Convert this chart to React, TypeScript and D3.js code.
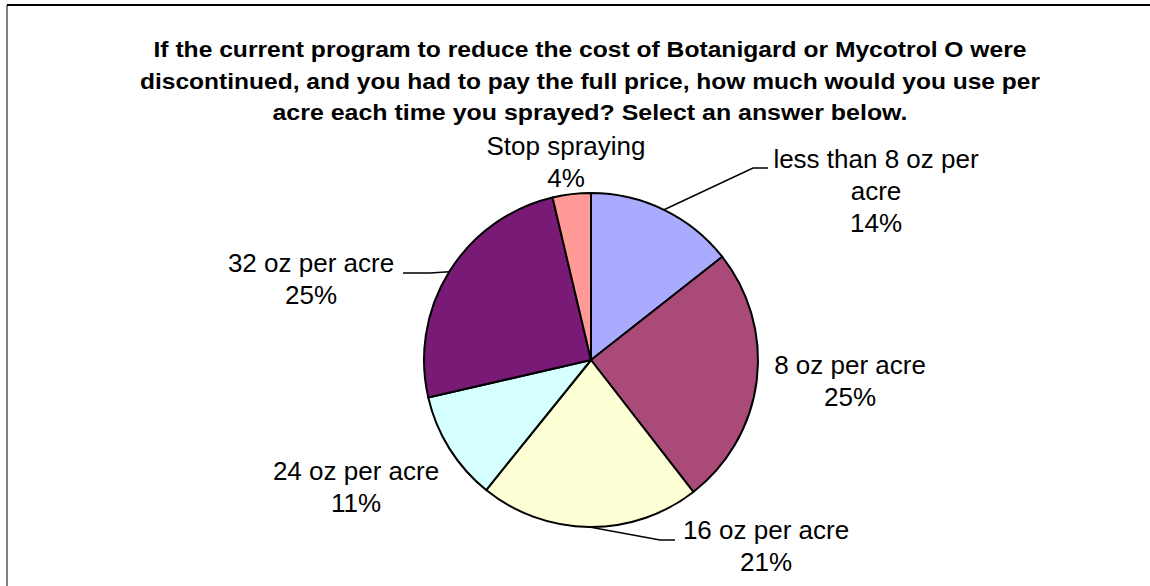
import { useEffect, useRef } from 'react';
import * as d3 from 'd3';

// survey answers, clockwise from 12 o'clock
const categories = [
  'less than 8 oz per acre',
  '8 oz per acre',
  '16 oz per acre',
  '24 oz per acre',
  '32 oz per acre',
  'Stop spraying',
];
const shares = [14.4, 25.1, 21.3, 10.6, 24.9, 3.7];
const colors = ['#AAAAFF', '#AA4A78', '#FFFFD6', '#D6FFFF', '#7A1A77', '#FF9A96'];

const titleLines = [
  'If the current program to reduce the cost of Botanigard or Mycotrol O were',
  'discontinued, and you had to pay the full price, how much would you use per',
  'acre each time you sprayed? Select an answer below.',
];

// label placement (text center x, first baseline y, line breaks, optional leader elbow/end)
const labelLayout = [
  { x: 876, y: 168, lines: ['less than 8 oz per', 'acre'], leader: [[753, 168], [768, 168]] },
  { x: 850, y: 374, lines: ['8 oz per acre'] },
  { x: 766, y: 539, lines: ['16 oz per acre'], leader: [[660, 540], [675, 540]] },
  { x: 356, y: 480, lines: ['24 oz per acre'] },
  { x: 311, y: 272, lines: ['32 oz per acre'], leader: [[430, 273], [403, 273]] },
  { x: 566, y: 155, lines: ['Stop spraying'] },
];

const W = 1150;
const H = 586;
const cx = 591;
const cy = 360;
const radius = 167;
const titleWidths = [873, 900, 635];

export default function App() {
  const svgRef = useRef<SVGSVGElement>(null);

  useEffect(() => {
    const svg = d3.select(svgRef.current);
    svg.selectAll('*').remove();

    // chart area frame
    svg.append('line').attr('x1', 7).attr('y1', 5).attr('x2', W).attr('y2', 5)
      .attr('stroke', '#000').attr('stroke-width', 2);
    svg.append('line').attr('x1', 7).attr('y1', 5).attr('x2', 7).attr('y2', H)
      .attr('stroke', '#000').attr('stroke-width', 1);

    // title
    svg.append('g')
      .selectAll('text')
      .data(titleLines)
      .enter()
      .append('text')
      .attr('x', 590)
      .attr('y', (d, i) => 57 + i * 31.5)
      .attr('text-anchor', 'middle')
      .attr('font-family', 'Liberation Sans, Arial, sans-serif')
      .attr('font-weight', 'bold')
      .attr('font-size', 22)
      .attr('textLength', (d, i) => titleWidths[i])
      .attr('lengthAdjust', 'spacingAndGlyphs')
      .text(d => d);

    const data = categories.map((c, i) => ({ label: c, value: shares[i], color: colors[i] }));

    const pie = d3.pie<any>().sort(null).value(d => d.value);
    const arc = d3.arc<any>().innerRadius(0).outerRadius(radius);
    const arcs = pie(data);

    const g = svg.append('g').attr('transform', `translate(${cx},${cy})`);
    g.selectAll('path')
      .data(arcs)
      .enter()
      .append('path')
      .attr('d', arc)
      .attr('fill', d => d.data.color)
      .attr('stroke', '#000')
      .attr('stroke-width', 2)
      .attr('stroke-linejoin', 'round');

    // leader lines from slice edge
    arcs.forEach((a, i) => {
      const lay = labelLayout[i];
      if (!lay.leader) return;
      const mid = (a.startAngle + a.endAngle) / 2;
      const start: [number, number] = [cx + Math.sin(mid) * radius, cy - Math.cos(mid) * radius];
      svg.append('path')
        .attr('d', d3.line()([start, ...(lay.leader as [number, number][])]))
        .attr('fill', 'none')
        .attr('stroke', '#000')
        .attr('stroke-width', 1.5);
    });

    // labels
    arcs.forEach((a, i) => {
      const lay = labelLayout[i];
      const lines = [...lay.lines, `${Math.round(a.data.value)}%`];
      const t = svg.append('text')
        .attr('text-anchor', 'middle')
        .attr('font-family', 'Liberation Sans, Arial, sans-serif')
        .attr('font-size', 26)
        .attr('fill', '#000');
      lines.forEach((line, j) => {
        t.append('tspan').attr('x', lay.x).attr('y', lay.y + j * 32).text(line);
      });
    });
  }, []);

  return (
    <svg
      ref={svgRef}
      width={W}
      height={H}
      style={{ position: 'absolute', left: 0, top: 0, background: '#fff' }}
    />
  );
}
